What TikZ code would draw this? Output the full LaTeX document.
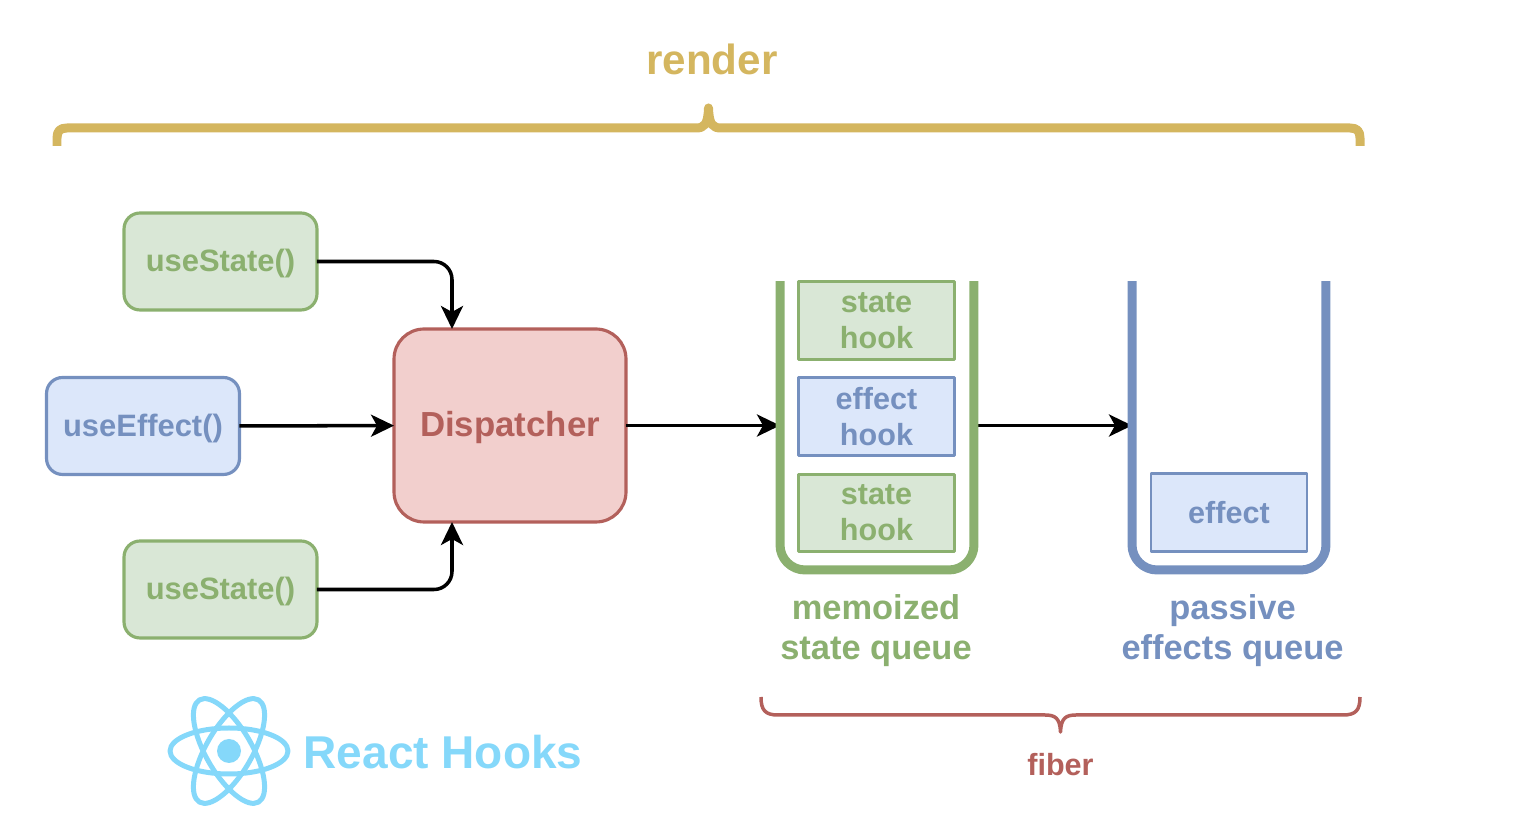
\documentclass[tikz,border=0pt]{standalone}
\usepackage{fontspec}
\setmainfont{Liberation Sans}
\usetikzlibrary{arrows.meta}
\definecolor{gfill}{HTML}{D9E7D6}
\definecolor{gline}{HTML}{8BB06F}
\definecolor{bfill}{HTML}{DCE7FA}
\definecolor{bline}{HTML}{7590BF}
\definecolor{rfill}{HTML}{F2CFCD}
\definecolor{rline}{HTML}{B3605B}
\definecolor{yline}{HTML}{D4B65F}
\definecolor{cline}{HTML}{85D8FA}
\tikzset{
call/.style={draw,rounded corners=.32cm,line width=1.8pt,minimum width=3.86cm,minimum height=1.94cm,outer sep=0pt,text height=15.5pt,font=\fontsize{17.6}{20.5}\selectfont\bfseries},
hook/.style={draw,line width=1.6pt,minimum width=3.12cm,minimum height=1.55cm,outer sep=0pt,align=center,font=\fontsize{17.4}{20.5}\selectfont\bfseries},
green/.style={draw=gline,fill=gfill,text=gline},
blue/.style={draw=bline,fill=bfill,text=bline},
queue/.style={minimum width=3.88cm,minimum height=5.78cm,inner sep=0pt,outer sep=0pt},
title/.style={align=center,font=\fontsize{19.6}{22.8}\selectfont\bfseries},
flow/.style={->,line width=2pt}
}
\begin{document}
\begin{tikzpicture}[line join=round,>={Stealth[length=.46cm,width=.44cm,inset=.12cm]},x=.02cm,y=-.02cm]
\useasboundingbox (0,0) rectangle (1526,830);
\path (220.5,261.5)node[call,green] (useStateA){useState()}
(143,426)node[call,blue] (useEffect){useEffect()}
(220.5,589.5)node[call,green] (useStateB){useState()}
(510,425.5)node[call,draw=rline,fill=rfill,text=rline,minimum width=4.64cm,minimum height=3.86cm,rounded corners=.6cm,text height=16.7pt,font=\fontsize{19.8}{24}\selectfont\bfseries] (Dispatcher){Dispatcher}
(877,425.5)node[queue] (memoQueue){}
(1229,425.5)node[queue] (passiveQueue){}
(452,329)coordinate (dispTop)
(452,522)coordinate (dispBottom)
;
\draw[flow,rounded corners=.36cm] (useStateA)-|(dispTop);
\draw[flow,rounded corners=.36cm] (useStateB)-|(dispBottom);
\draw[flow] (useEffect)--(Dispatcher);
\draw[flow] (Dispatcher)--(memoQueue);
\draw[flow] (memoQueue)--(passiveQueue);
\draw[gline,line width=.18cm,rounded corners=.5cm] (memoQueue.north west)--(memoQueue.south west)--(memoQueue.south east)--(memoQueue.north east);
\draw[bline,line width=.18cm,rounded corners=.5cm] (passiveQueue.north west)--(passiveQueue.south west)--(passiveQueue.south east)--(passiveQueue.north east);
\path (876.5,320.5)node[hook,green] (hookA){state\\hook}
(876.5,416.5)node[hook,blue] (hookB){effect\\hook}
(876.5,513)node[hook,green] (hookC){state\\hook}
(1229,512.5)node[hook,blue] (effectBox){effect}
(876,631)node[title,text=gline] (memoLabel){memoized\\state queue}
(1232.5,631)node[title,text=bline] (passiveLabel){passive\\effects queue}
(712,59)node[text=yline,font=\fontsize{24}{28}\selectfont\bfseries] (renderLabel){render}
(1060.5,765)node[text=rline,font=\fontsize{17.4}{20}\selectfont\bfseries] (fiberLabel){fiber}
(443,752)node[text=cline,font=\fontsize{26.2}{30}\selectfont\bfseries] (reactLabel){React Hooks}
(229,751)coordinate (atom)
;
% braces
\draw[yline,line width=.18cm] (57,146)--(57,138) .. controls (57,131) and (60,128) .. (67,128)--(696,128) .. controls (704,128) and (708,125) .. (708.5,108) .. controls (709,125) and (713,128) .. (721,128)--(1350,128) .. controls (1357,128) and (1360,131) .. (1360,138)--(1360,146);
\draw[rline,line width=.07cm] (761,697) .. controls (761,710) and (765,715) .. (778,715)--(1045,715) .. controls (1055,715) and (1060,718) .. (1060.5,732) .. controls (1061,718) and (1066,715) .. (1076,715)--(1343,715) .. controls (1356,715) and (1360,710) .. (1360,697);
\foreach \r in {0,60,120}
\draw[cline,line width=.1cm,rotate around={\r:(atom)}] (atom) ellipse (59 and 23);
\fill[cline] (atom) circle (12);
\end{tikzpicture}
\end{document}
